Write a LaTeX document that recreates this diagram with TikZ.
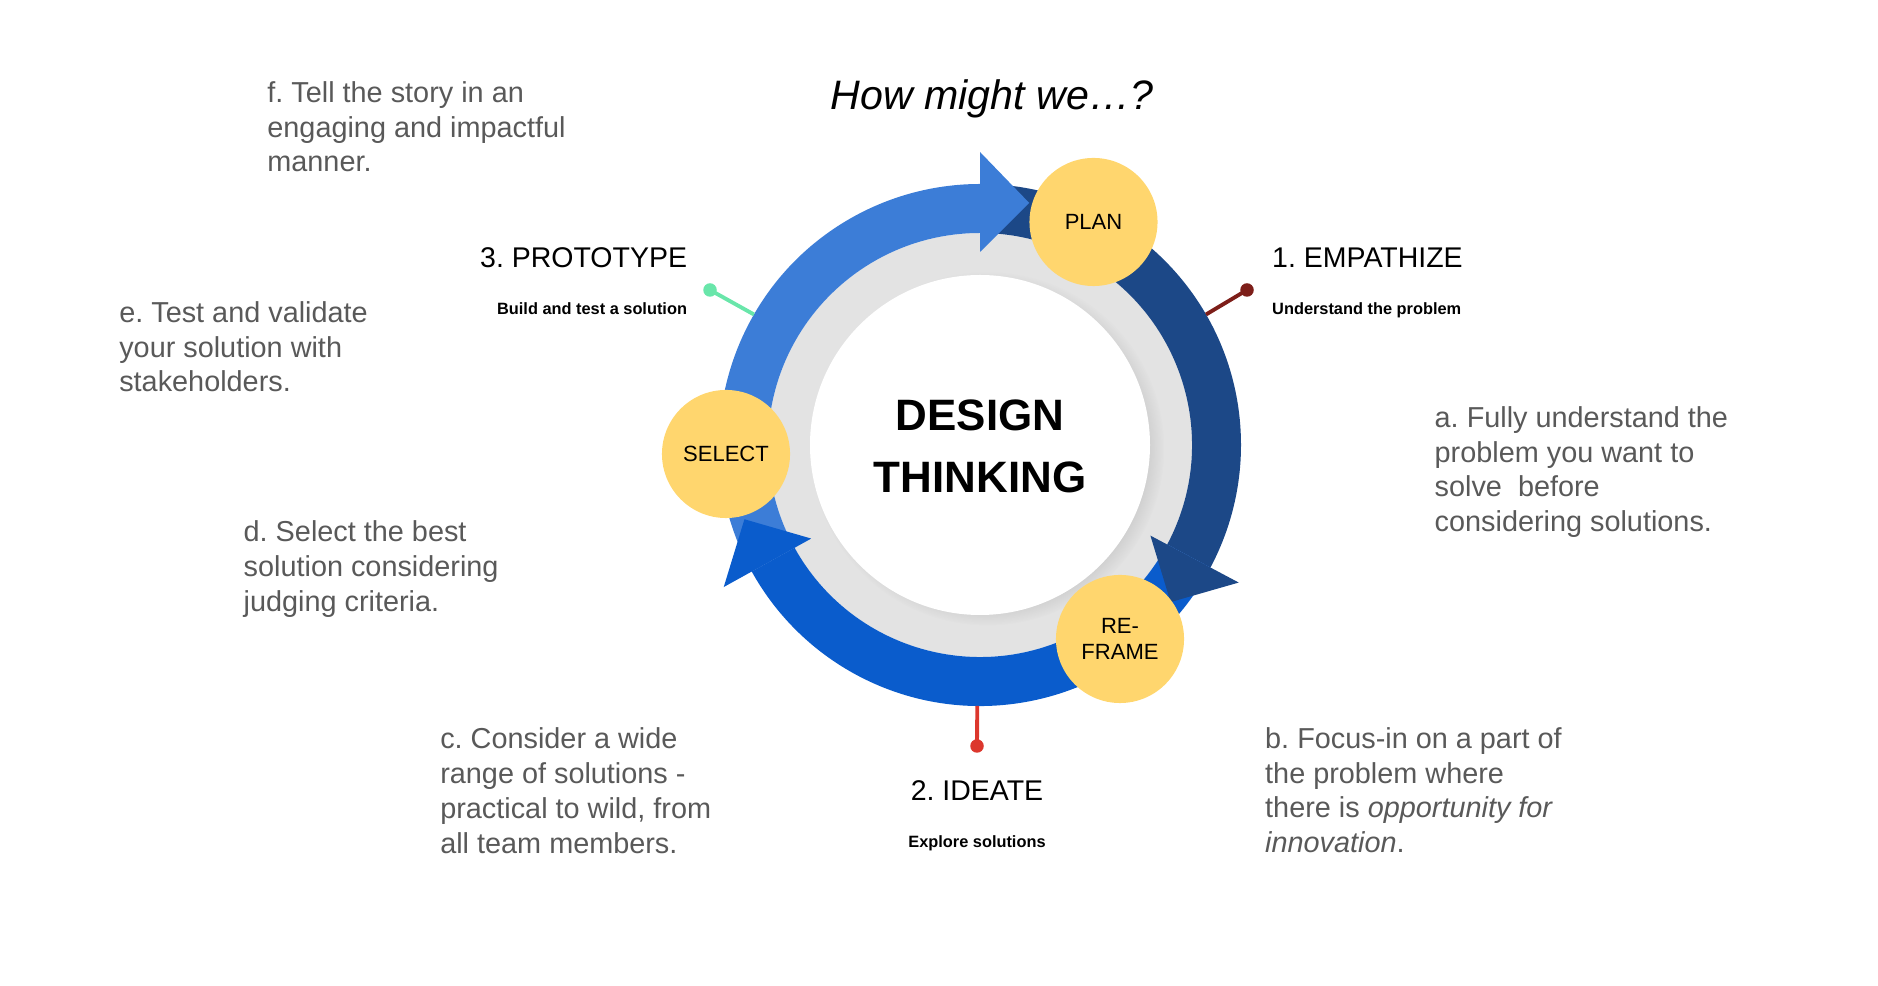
\documentclass[tikz,border=0pt]{standalone}
\usepackage{fontspec}
\setmainfont{Liberation Sans}
\usetikzlibrary{positioning, calc, shadows}

\definecolor{skyblue}{RGB}{60,125,215}
\definecolor{navyblue}{RGB}{28,72,135}
\definecolor{royalblue}{RGB}{10,92,204}
\definecolor{sunyellow}{RGB}{255,214,110}
\definecolor{ringgray}{RGB}{227,227,227}
\definecolor{notegray}{RGB}{89,89,89}
\definecolor{mintgreen}{RGB}{105,230,170}
\definecolor{rustred}{RGB}{125,30,25}
\definecolor{tackred}{RGB}{220,55,45}

\tikzset{
  phase/.style={font=\fontsize{8.1}{9.7}\selectfont, inner sep=0pt}, % the three numbered steps
  phase sub/.style={font=\fontsize{4.65}{5.6}\selectfont\bfseries, inner sep=0pt},
  note/.style={font=\fontsize{8.2}{9.87}\selectfont, text=notegray, align=left,
    anchor=base west, inner sep=0pt}, % the grey a. to f. remarks, placed by their last line
  stage/.style={circle, fill=sunyellow, minimum size=1.28cm, inner sep=0pt,
    font=\fontsize{6.26}{7.4}\selectfont, align=center},
  tack/.style={circle, minimum size=1.35mm, inner sep=0pt}, % dot at the end of a pin line
}

\begin{document}
\frenchspacing
\begin{tikzpicture}[x=0.01cm, y=0.01cm]
  \useasboundingbox (0,0) rectangle (1878,-986);
  \coordinate (hub) at (980,-445);

  \fill[ringgray] (hub) circle[radius=212];
  \path[fill=white, circular drop shadow={shadow scale=1.04, shadow xshift=2pt,
    shadow yshift=-1pt, opacity=.3}] (hub) circle[radius=170];

  % cycle arrows: bodies first, heads on top
  \begin{scope}[shift={(hub)}]
    \foreach \from/\to/\tint in {209/90/skyblue, 90/-28/navyblue, -28/-151/royalblue}
      \fill[\tint] (\from:261) arc[start angle=\from, end angle=\to, radius=261]
        -- (\to:212) arc[start angle=\to, end angle=\from, radius=212] -- cycle;
    \foreach \to/\tint in {90/skyblue, -28/navyblue, -151/royalblue}
      \fill[\tint] (\to:293) -- ({\to-11.5}:247) -- (\to:193) -- cycle;
  \end{scope}

  \node[stage] (plan) at (1093.5,-222) {PLAN};
  \node[stage] (select) at (726,-454) {SELECT};
  \node[stage] (reframe) at (1120,-639) {RE-\\FRAME};

  \node[font=\fontsize{12.5}{17.6}\selectfont\bfseries, align=center, anchor=base,
    inner sep=0pt] (design) at (980,-492.6) {DESIGN\\THINKING};
  \node[font=\fontsize{11.7}{14}\selectfont\itshape, anchor=base, inner sep=0pt]
    (question) at (992,-110) {How might we…?};

  % steps
  \node[phase, anchor=base west] (empathize) at (1271.5,-267.3) {1. EMPATHIZE};
  \node[phase sub, below=4.7mm of empathize.base west, anchor=base west]
    (empathize_sub) {Understand the problem};
  \node[phase, anchor=base] (ideate) at (977,-801) {2. IDEATE};
  \node[phase sub, below=4.6mm of ideate.base, anchor=base]
    (ideate_sub) {Explore solutions};
  \node[phase, anchor=base east] (prototype) at (687.7,-267.3) {3. PROTOTYPE};
  \node[phase sub, below=4.7mm of prototype.base east, anchor=base east]
    (prototype_sub) {Build and test a solution};

  % pins
  \node[tack, fill=rustred] (empathize_tack) at (1247,-290) {};
  \node[tack, fill=tackred] (ideate_tack) at (977,-746) {};
  \node[tack, fill=mintgreen] (prototype_tack) at (710,-290) {};
  \coordinate (empathize_ring) at ($(hub)+(30:261)$);
  \coordinate (ideate_ring) at ($(hub)+(-90.6:261)$);
  \coordinate (prototype_ring) at ($(hub)+(150:261)$);
  \draw[rustred, line width=1.1pt] (empathize_tack.center) -- (empathize_ring);
  \draw[tackred, line width=1.1pt] (ideate_tack.center) -- (ideate_ring);
  \draw[mintgreen, line width=1.1pt] (prototype_tack.center) -- (prototype_ring);

  % remarks
  \node[note] (note_a) at (1434,-531.6) {a. Fully understand the\\problem you want to\\solve\ \ before\\considering solutions.};
  \node[note] (note_b) at (1264.5,-852.6) {b. Focus-in on a part of\\the problem where\\there is \textit{opportunity for}\\\textit{innovation}.};
  \node[note] (note_c) at (439.6,-853.1) {c. Consider a wide\\range of solutions -\\practical to wild, from\\all team members.};
  \node[note] (note_d) at (243,-611.4) {d. Select the best\\solution considering\\judging criteria.};
  \node[note] (note_e) at (118.6,-391.9) {e. Test and validate\\your solution with\\stakeholders.};
  \node[note] (note_f) at (266.7,-171.9) {f. Tell the story in an\\engaging and impactful\\manner.};
\end{tikzpicture}
\end{document}
